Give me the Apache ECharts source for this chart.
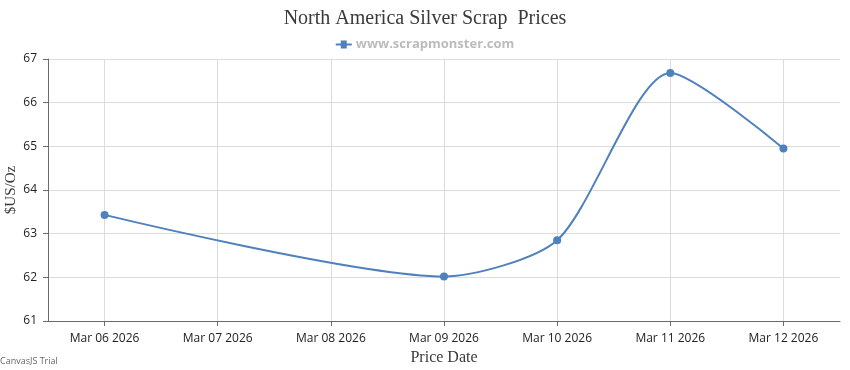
<!DOCTYPE html>
<html>
<head>
<meta charset="utf-8">
<script src="https://cdn.jsdelivr.net/npm/echarts@6/dist/echarts.min.js"></script>
<style>
html,body{margin:0;padding:0;background:#fff;}
#chart{width:850px;height:370px;}
</style>
</head>
<body>
<div id="chart"></div>
<script>
const categories = ['Mar 06 2026','Mar 07 2026','Mar 08 2026','Mar 09 2026','Mar 10 2026','Mar 11 2026','Mar 12 2026'];
const prices = [63.43, null, null, 62.02, 62.85, 66.68, 64.95];
const yTicks = [61, 62, 63, 64, 65, 66, 67];
const titleText = 'North America Silver Scrap  Prices';
const seriesName = 'www.scrapmonster.com';

const chart = echarts.init(document.getElementById('chart'));
chart.setOption({
  animation: false,
  title: {
    text: titleText,
    left: 'center',
    top: 4,
    textStyle: {fontFamily: 'Liberation Serif', fontSize: 20, fontWeight: 'normal', color: '#3a3a3a'}
  },
  legend: {
    data: [{name: seriesName, icon: 'path://M0,3 L5,3 L5,0 L11,0 L11,3 L16,3 L16,5 L11,5 L11,8 L5,8 L5,5 L0,5 Z'}],
    top: 33,
    left: 'center',
    itemWidth: 16,
    itemHeight: 8,
    itemGap: 4,
    textStyle: {fontFamily: 'Open Sans', fontSize: 13, fontWeight: 'bold', color: '#bcbcbc', padding: [0,0,0,-1]}
  },
  graphic: [{
    type: 'text', left: 0, top: 357,
    style: {text: 'CanvasJS Trial', fontFamily: 'Open Sans', fontSize: 9, fill: '#666'}
  }],
  grid: {left: 48, right: 10, top: 59, bottom: 49, containLabel: false, outerBoundsMode: 'none'},
  xAxis: {
    type: 'category',
    data: categories,
    boundaryGap: true,
    name: 'Price Date',
    nameLocation: 'middle',
    nameGap: 27,
    nameTextStyle: {fontFamily: 'Liberation Serif', fontSize: 16, color: '#3a3a3a'},
    axisLine: {lineStyle: {color: '#6b6b6b', width: 1}},
    axisTick: {show: true, alignWithLabel: true, length: 5, lineStyle: {color: '#6b6b6b'}},
    axisLabel: {fontFamily: 'Open Sans', fontSize: 12, color: '#222', margin: 12},
    splitLine: {show: true, alignWithLabel: true, lineStyle: {color: '#dcdcdc', width: 1}}
  },
  yAxis: {
    type: 'value',
    min: yTicks[0],
    max: yTicks[yTicks.length - 1],
    interval: 1,
    name: '$US/Oz',
    nameLocation: 'middle',
    nameGap: 29,
    nameMoveOverlap: false,
    nameTextStyle: {fontFamily: 'Liberation Serif', fontSize: 15, color: '#3a3a3a'},
    axisLine: {show: true, lineStyle: {color: '#6b6b6b', width: 1}},
    axisTick: {show: true, length: 5, lineStyle: {color: '#6b6b6b'}},
    axisLabel: {fontFamily: 'Open Sans', fontSize: 12, color: '#222', margin: 11},
    splitLine: {show: true, lineStyle: {color: '#dcdcdc', width: 1}}
  },
  series: [{
    name: seriesName,
    type: 'line',
    data: prices,
    connectNulls: true,
    smooth: 0.25,
    symbol: 'circle',
    symbolSize: 8,
    lineStyle: {color: '#4f81bc', width: 2},
    itemStyle: {color: '#4f81bc'}
  }]
});
</script>
</body>
</html>
